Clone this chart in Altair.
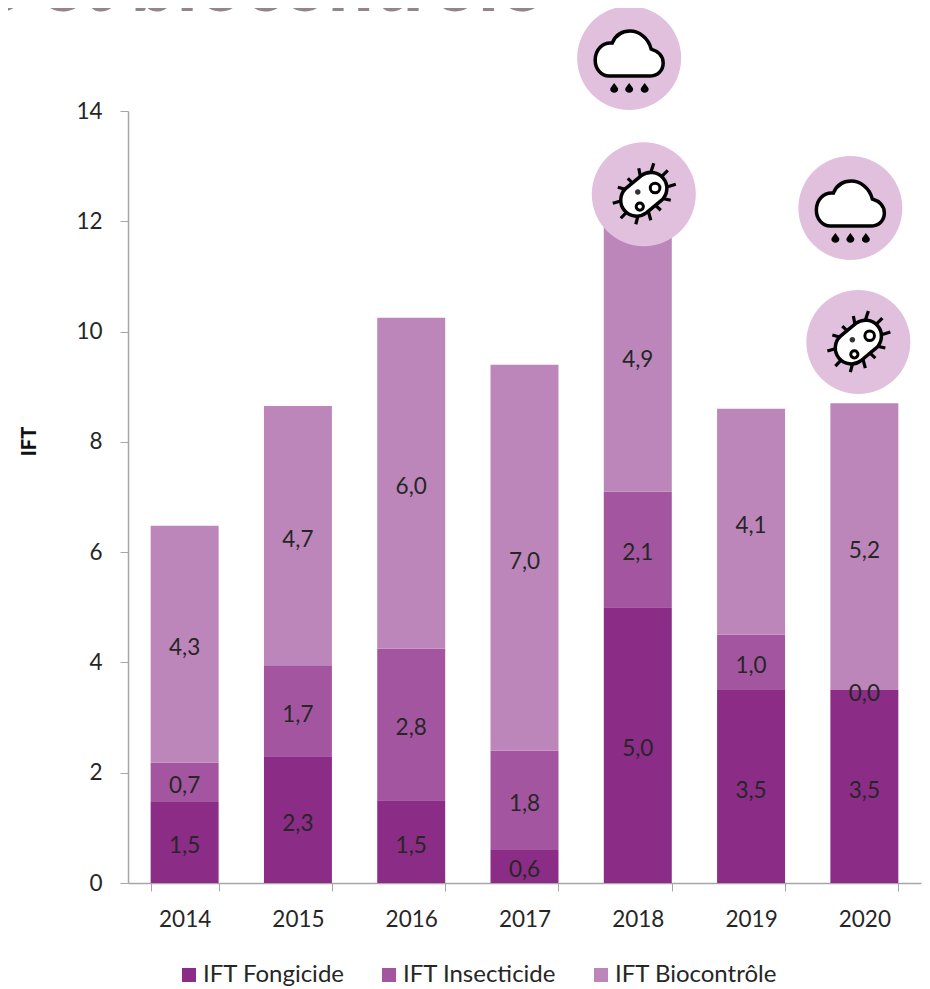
import math
import altair as alt
import pandas as pd

years = ["2014", "2015", "2016", "2017", "2018", "2019", "2020"]
series = ["IFT Fongicide", "IFT Insecticide", "IFT Biocontrôle"]
colors = ["#8B2C87", "#A3569F", "#BC86BA"]
fongicide = [1.47, 2.3, 1.5, 0.6, 5.0, 3.5, 3.5]
insecticide = [0.71, 1.65, 2.75, 1.8, 2.1, 1.0, 0.0]
biocontrole = [4.3, 4.7, 6.0, 7.0, 4.9, 4.1, 5.2]
lab_f = ["1,5", "2,3", "1,5", "0,6", "5,0", "3,5", "3,5"]
lab_i = ["0,7", "1,7", "2,8", "1,8", "2,1", "1,0", "0,0"]
lab_b = ["4,3", "4,7", "6,0", "7,0", "4,9", "4,1", "5,2"]

FONT = "Lato"
FS = 22.5
TXT = "#262626"
GREY = "#A6A6A6"

rows = []
for i, y in enumerate(years):
    base = 0.0
    for s, vals, labs in zip(series, (fongicide, insecticide, biocontrole), (lab_f, lab_i, lab_b)):
        v = vals[i]
        rows.append(dict(year=y, serie=s, order=series.index(s), y0=base, y1=base + v,
                         mid=base + v / 2, label=labs[i]))
        base += v
df = pd.DataFrame(rows)

xenc = alt.X("year:N", sort=years, title=None,
             scale=alt.Scale(domain=years, paddingInner=0.4, paddingOuter=0.2),
             axis=alt.Axis(tickBand="extent", labelAngle=0, labelFontSize=FS, labelFont=FONT,
                           labelColor=TXT, labelPadding=17, tickSize=8, tickColor=GREY,
                           domainColor=GREY, domainWidth=1.5, grid=False))
yscale = alt.Scale(domain=[0, 14], nice=False)

bars = alt.Chart(df).mark_bar().encode(
    x=xenc,
    y=alt.Y("y0:Q", scale=yscale, title="IFT",
            axis=alt.Axis(values=[0, 2, 4, 6, 8, 10, 12, 14], format="d", grid=False, labelFontSize=FS,
                          labelFont=FONT, labelColor=TXT, labelPadding=18, tickSize=8,
                          tickColor=GREY, domainColor=GREY, domainWidth=1.5,
                          titleFont=FONT, titleFontSize=20, titleFontWeight=900,
                          titleColor="#111111", titlePadding=36, titleY=330)),
    y2="y1:Q",
    color=alt.Color("serie:N", sort=series,
                    scale=alt.Scale(domain=series, range=colors),
                    legend=alt.Legend(orient="none", direction="horizontal", title=None,
                                      legendX=49, legendY=852, symbolType="square",
                                      symbolSize=196, symbolStrokeWidth=0, labelFont=FONT,
                                      labelFontSize=24, labelColor=TXT, columnPadding=32,
                                      labelOffset=2, labelLimit=400, symbolOpacity=1)),
)

labels = alt.Chart(df).mark_text(font=FONT, fontSize=FS, color=TXT, dy=4).encode(
    x=alt.X("year:N", sort=years), y=alt.Y("mid:Q", scale=yscale), text="label:N")

title_df = pd.DataFrame({"year": ["2017"], "v": [15.82], "t": ["s et biocontrôle"]})
title = alt.Chart(title_df).mark_text(font="Lato", fontSize=80, fontWeight=900, color="#94848C",
                                      align="right", baseline="alphabetic", dx=17).encode(
    x=alt.X("year:N", sort=years), y=alt.Y("v:Q", scale=yscale), text="t:N")

# icon shapes, drawn around the circle centre in pixels (size 4 => unit scale 1)
cloud = ("M-20,18 L20,18 C29,18 34,12 34,5 C34,-2 29,-7 22,-9 C19,-21 9,-27 1,-27 "
         "C-8,-27 -14,-22 -17,-15 C-27,-16 -34,-8 -34,2 C-34,11 -28,18 -20,18 Z")


def drop(cx):
    return (f"M{cx},25 C{cx+2},28 {cx+4},30 {cx+4},31 C{cx+4},36 {cx-4},36 {cx-4},31 "
            f"C{cx-4},30 {cx-2},28 {cx},25 Z")


drops = " ".join(drop(c) for c in (-15, 0, 15.5))


def ring(cx, cy, r):
    return f"M{cx+r},{cy} A{r},{r} 0 1,0 {cx-r},{cy} A{r},{r} 0 1,0 {cx+r},{cy} Z"


ux, uy = 0.77, -0.64
nx, ny = 0.64, 0.77
L, R = 10.0, 16.0
a = (ux * L + nx * R, uy * L + ny * R)
b = (ux * L - nx * R, uy * L - ny * R)
c = (-ux * L - nx * R, -uy * L - ny * R)
d = (-ux * L + nx * R, -uy * L + ny * R)
body = (f"M{a[0]:.1f},{a[1]:.1f} A{R},{R} 0 0,0 {b[0]:.1f},{b[1]:.1f} "
        f"L{c[0]:.1f},{c[1]:.1f} A{R},{R} 0 0,0 {d[0]:.1f},{d[1]:.1f} Z")
spike_ends = [(10, -31), (24, -24), (32, -10), (27, 6), (17, 16), (7, 26), (-8, 30),
              (-23, 24), (-31, 9), (-26, -7), (-16, -16), (-5, -26)]
spikes = ""
for (sx, sy) in spike_ends:
    n = math.hypot(sx, sy)
    spikes += f"M{sx:.1f},{sy:.1f} L{sx * (1 - 11 / n):.1f},{sy * (1 - 11 / n):.1f} "
rings = ring(11.3, -6.3, 4.8) + " " + ring(-4, 12.3, 3.6)
dot = ring(-6, -2.3, 2.8)

icons = [("2018", 14.96, -8.6, "cloud"), ("2018", 12.49, 6.0, "bact"),
         ("2020", 12.24, -14.0, "cloud"), ("2020", 9.81, -6.0, "bact")]

layers = [bars, labels, title]
for year, val, dx, kind in icons:
    base = alt.Chart(pd.DataFrame({"year": [year], "v": [val]}))
    enc = dict(x=alt.X("year:N", sort=years), y=alt.Y("v:Q", scale=yscale))
    pt = dict(xOffset=dx)
    layers.append(base.mark_point(shape="circle", size=10816, filled=True, fill="#E0C0DD",
                                  opacity=1, strokeWidth=0, **pt).encode(**enc))
    if kind == "cloud":
        layers.append(base.mark_point(shape=cloud, size=4, filled=True, fill="white", stroke="black",
                                      strokeWidth=3.5, opacity=1, **pt).encode(**enc))
        layers.append(base.mark_point(shape=drops, size=4, filled=True, fill="black", strokeWidth=0,
                                      opacity=1, **pt).encode(**enc))
    else:
        layers.append(base.mark_point(shape=spikes, size=4, filled=False, stroke="black",
                                      strokeWidth=3.2, opacity=1, **pt).encode(**enc))
        layers.append(base.mark_point(shape=body, size=4, filled=True, fill="white", stroke="black",
                                      strokeWidth=3.5, opacity=1, **pt).encode(**enc))
        layers.append(base.mark_point(shape=rings, size=4, filled=True, fill="white", stroke="black",
                                      strokeWidth=3, opacity=1, **pt).encode(**enc))
        layers.append(base.mark_point(shape=dot, size=4, filled=True, fill="#333333", strokeWidth=0,
                                      opacity=1, **pt).encode(**enc))

chart = alt.layer(*layers).properties(
    width=793, height=772,
    autosize=alt.AutoSizeParams(type="none"),
    padding={"left": 120, "top": 103, "right": 1, "bottom": 106},
    background="white",
).configure_view(stroke=None)

chart.save("out.html", embed_options={"renderer": "svg", "actions": False})
